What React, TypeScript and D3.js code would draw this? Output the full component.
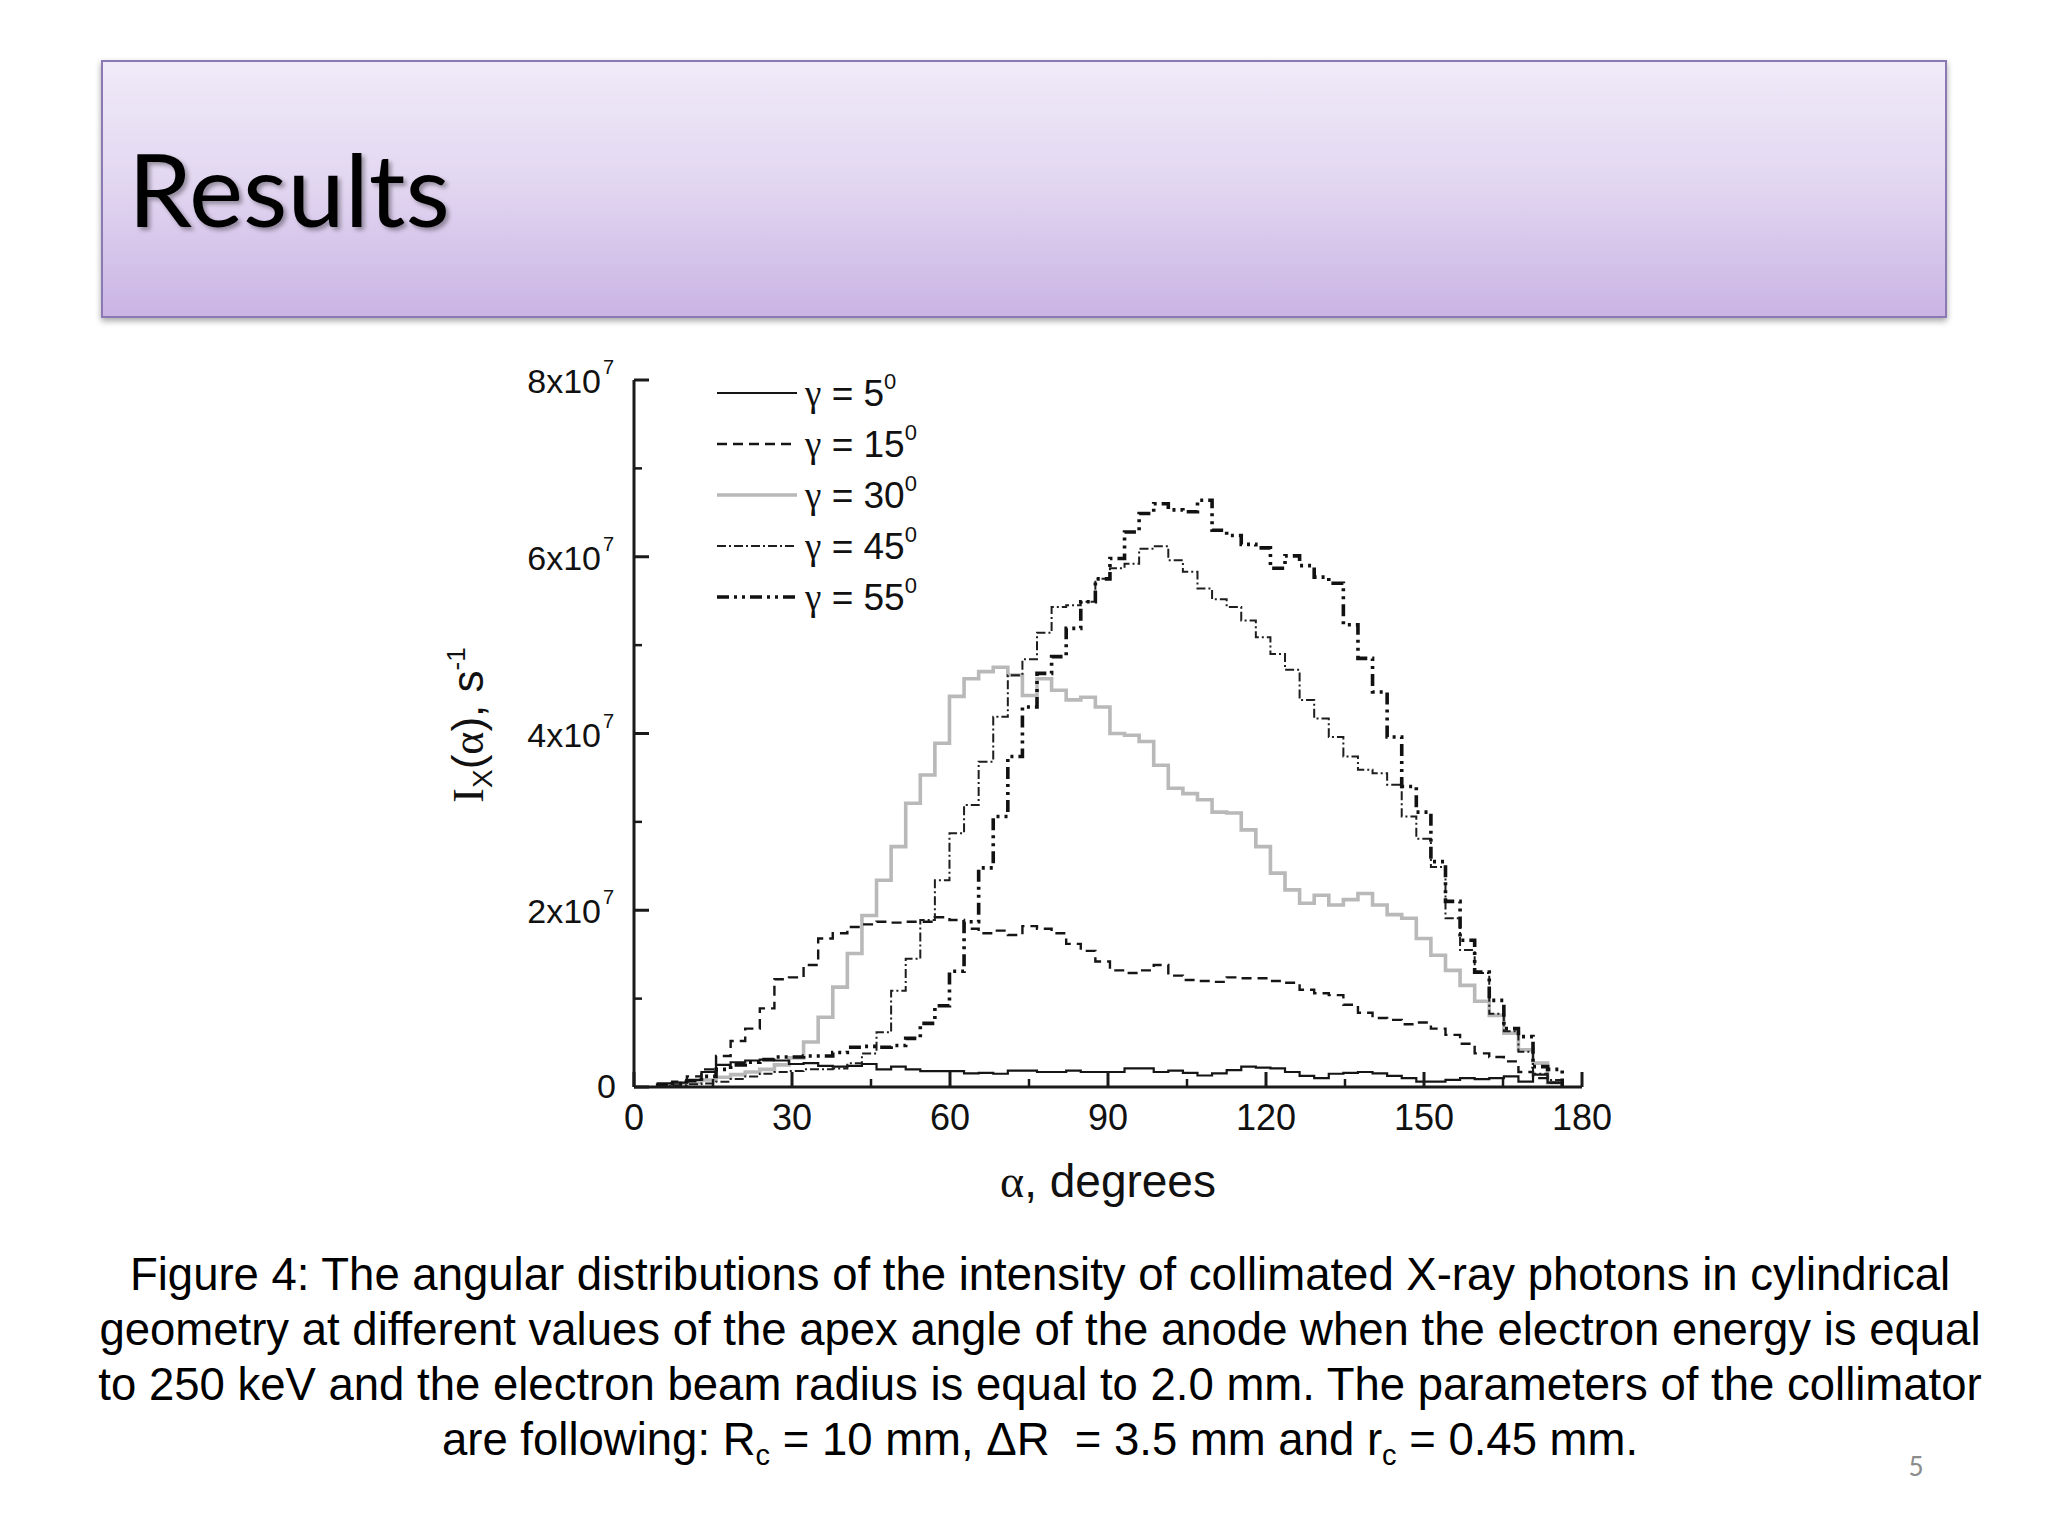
import React from "react";
import * as d3 from "d3";

// ---------- data (intensity in units of 10^7 s^-1, one value per angular bin) ----------
const ANGLE_BIN_START = 4.5; // degrees, left edge of first bin
const ANGLE_BIN_WIDTH = 2.77; // degrees

const gamma5 = [
  0.04, 0.05, 0.08, 0.17, 0.25, 0.28, 0.30, 0.31, 0.30, 0.26,
  0.27, 0.24, 0.23, 0.24, 0.26, 0.20, 0.23, 0.20, 0.18, 0.18,
  0.18, 0.155, 0.16, 0.15, 0.185, 0.185, 0.17, 0.17, 0.185, 0.17,
  0.17, 0.17, 0.21, 0.21, 0.17, 0.185, 0.16, 0.13, 0.155, 0.19,
  0.23, 0.22, 0.21, 0.17, 0.125, 0.10, 0.15, 0.16, 0.17, 0.155,
  0.125, 0.10, 0.06, 0.06, 0.08, 0.10, 0.09, 0.10, 0.12, 0.06,
  0.14, 0.05,
];
const gamma15 = [
  0.03, 0.06, 0.12, 0.20, 0.35, 0.52, 0.66, 0.89, 1.22, 1.24,
  1.38, 1.68, 1.74, 1.81, 1.84, 1.87, 1.86, 1.87, 1.87, 1.92,
  1.89, 1.79, 1.74, 1.77, 1.72, 1.82, 1.79, 1.74, 1.62, 1.54,
  1.42, 1.32, 1.29, 1.32, 1.38, 1.26, 1.21, 1.20, 1.19, 1.24,
  1.23, 1.23, 1.20, 1.18, 1.10, 1.06, 1.04, 0.93, 0.84, 0.78,
  0.76, 0.71, 0.73, 0.66, 0.59, 0.49, 0.38, 0.34, 0.29, 0.17,
  0.10, 0.05,
];
const gamma30 = [
  0.01, 0.03, 0.05, 0.08, 0.11, 0.14, 0.17, 0.20, 0.25, 0.33,
  0.51, 0.79, 1.13, 1.51, 1.94, 2.34, 2.72, 3.21, 3.53, 3.89,
  4.42, 4.62, 4.70, 4.75, 4.66, 4.43, 4.62, 4.49, 4.38, 4.41,
  4.30, 4.00, 3.98, 3.91, 3.64, 3.38, 3.32, 3.25, 3.11, 3.10,
  2.91, 2.72, 2.42, 2.23, 2.08, 2.17, 2.06, 2.12, 2.19, 2.06,
  1.95, 1.91, 1.68, 1.49, 1.32, 1.15, 0.97, 0.81, 0.61, 0.42,
  0.27, 0.05,
];
const gamma45 = [
  0.01, 0.02, 0.03, 0.04, 0.06, 0.09, 0.12, 0.15, 0.17, 0.18,
  0.20, 0.20, 0.21, 0.27, 0.38, 0.62, 1.09, 1.45, 1.89, 2.34,
  2.87, 3.19, 3.68, 4.19, 4.66, 4.84, 5.14, 5.43, 5.45, 5.49,
  5.75, 5.87, 5.92, 6.09, 6.12, 5.96, 5.83, 5.64, 5.52, 5.43,
  5.28, 5.09, 4.90, 4.72, 4.38, 4.17, 3.96, 3.74, 3.59, 3.55,
  3.42, 3.06, 2.81, 2.49, 1.91, 1.55, 1.29, 0.83, 0.63, 0.40,
  0.15, 0.08,
];
const gamma55 = [
  0.02, 0.04, 0.07, 0.12, 0.20, 0.25, 0.28, 0.31, 0.34, 0.34,
  0.35, 0.35, 0.39, 0.45, 0.46, 0.45, 0.47, 0.55, 0.72, 0.92,
  1.31, 1.87, 2.48, 3.06, 3.74, 4.30, 4.68, 4.87, 5.19, 5.49,
  5.75, 5.98, 6.28, 6.49, 6.60, 6.53, 6.51, 6.64, 6.30, 6.24,
  6.14, 6.10, 5.87, 6.01, 5.90, 5.77, 5.70, 5.23, 4.85, 4.47,
  3.96, 3.40, 3.11, 2.55, 2.10, 1.66, 1.30, 0.98, 0.66, 0.57,
  0.23, 0.20,
];

const seriesLabels = ["5", "15", "30", "45", "55"];
const xTickValues = [0, 30, 60, 90, 120, 150, 180];
const xMinorTicks = [15, 45, 75, 105, 135, 165];
const yTickValues = [0, 2, 4, 6, 8];
const yMinorTicks = [1, 3, 5, 7];

const captionLines = [
  "Figure 4: The angular distributions of the intensity of collimated X-ray photons in cylindrical",
  "geometry at different values of the apex angle of the anode when the electron energy is equal",
  "to 250 keV and the electron beam radius is equal to 2.0 mm. The parameters of the collimator",
];

// ---------- styles ----------
const seriesStyles = [
  { stroke: "#151515", width: 2.2, dash: "none" },
  { stroke: "#151515", width: 2.4, dash: "10 6" },
  { stroke: "#b9b9b9", width: 3.6, dash: "none" },
  { stroke: "#1e1e1e", width: 2.0, dash: "9 3 2 3" },
  { stroke: "#111111", width: 3.6, dash: "12 5 3 5 3 5" },
];

const SANS = "'Liberation Sans', Arial, sans-serif";
const SERIF = "'Liberation Serif', 'DejaVu Serif', serif";
const CAPTION_SIZE = 45.5;

export default function App() {
  const x = d3.scaleLinear().domain([0, 180]).range([634, 1582]);
  const y = d3.scaleLinear().domain([0, 8]).range([1087, 380]);

  const allSeries = [gamma5, gamma15, gamma30, gamma45, gamma55];

  const stepLine = d3
    .line<[number, number]>()
    .x((d) => x(d[0]))
    .y((d) => y(d[1]))
    .curve(d3.curveStepAfter);

  const buildPoints = (vals: number[]): [number, number][] => {
    const pts: [number, number][] = [[ANGLE_BIN_START, 0]];
    vals.forEach((v, i) => pts.push([ANGLE_BIN_START + i * ANGLE_BIN_WIDTH, v]));
    const end = ANGLE_BIN_START + vals.length * ANGLE_BIN_WIDTH;
    pts.push([end, vals[vals.length - 1]]);
    pts.push([end, 0]);
    return pts;
  };

  const drawOrder = [2, 0, 1, 3, 4];

  const axisColor = "#1a1a1a";
  const x0 = x(0);
  const y0 = y(0);

  return (
    <svg
      width={2048}
      height={1536}
      viewBox="0 0 2048 1536"
      style={{ position: "absolute", left: 0, top: 0, background: "#ffffff" }}
    >
      <defs>
        <linearGradient id="titleGrad" x1="0" y1="0" x2="0" y2="1">
          <stop offset="0%" stopColor="#f0eaf8" />
          <stop offset="45%" stopColor="#e3d8f1" />
          <stop offset="100%" stopColor="#cab4e4" />
        </linearGradient>
        <filter id="boxShadow" x="-5%" y="-10%" width="110%" height="130%">
          <feDropShadow dx="0" dy="3" stdDeviation="3" floodColor="#000" floodOpacity="0.35" />
        </filter>
        <filter id="textShadow" x="-5%" y="-10%" width="115%" height="130%">
          <feDropShadow dx="3" dy="3" stdDeviation="2" floodColor="#000" floodOpacity="0.35" />
        </filter>
      </defs>

      {/* Title box */}
      <rect
        x={102}
        y={61}
        width={1844}
        height={256}
        fill="url(#titleGrad)"
        stroke="#8a79b3"
        strokeWidth={2}
        filter="url(#boxShadow)"
      />
      <text
        x={128}
        y={227}
        fontFamily="Lato, 'Open Sans', sans-serif"
        fontSize={100}
        fill="#000"
        textLength={322}
        lengthAdjust="spacingAndGlyphs"
        filter="url(#textShadow)"
      >
        Results
      </text>

      {/* Series */}
      {drawOrder.map((si) => {
        const st = seriesStyles[si];
        return (
          <path
            key={si}
            d={stepLine(buildPoints(allSeries[si])) || ""}
            fill="none"
            stroke={st.stroke}
            strokeWidth={st.width}
            strokeDasharray={st.dash === "none" ? undefined : st.dash}
            strokeLinejoin="miter"
          />
        );
      })}

      {/* Axes */}
      <line x1={x0} x2={x0} y1={y(8)} y2={y0} stroke={axisColor} strokeWidth={3} />
      <line x1={x0} x2={x(180)} y1={y0} y2={y0} stroke={axisColor} strokeWidth={3} />
      {yTickValues.map((t) => (
        <line key={"yt" + t} x1={x0} x2={x0 + 15} y1={y(t)} y2={y(t)} stroke={axisColor} strokeWidth={3} />
      ))}
      {yMinorTicks.map((t) => (
        <line key={"ym" + t} x1={x0} x2={x0 + 8} y1={y(t)} y2={y(t)} stroke={axisColor} strokeWidth={2.5} />
      ))}
      {xTickValues.map((t) => (
        <line key={"xt" + t} x1={x(t)} x2={x(t)} y1={y0} y2={y0 - 15} stroke={axisColor} strokeWidth={3} />
      ))}
      {xMinorTicks.map((t) => (
        <line key={"xm" + t} x1={x(t)} x2={x(t)} y1={y0} y2={y0 - 8} stroke={axisColor} strokeWidth={2.5} />
      ))}

      {/* Y tick labels */}
      {yTickValues.map((t) =>
        t === 0 ? (
          <text key={"yl" + t} x={616} y={y(t) + 11} textAnchor="end" fontFamily={SANS} fontSize={34} fill="#111">
            0
          </text>
        ) : (
          <g key={"yl" + t}>
            <text x={601} y={y(t) + 13} textAnchor="end" fontFamily={SANS} fontSize={34} fill="#111">
              {t}x10
            </text>
            <text x={603} y={y(t) - 6} fontFamily={SANS} fontSize={20} fill="#111">
              7
            </text>
          </g>
        )
      )}

      {/* X tick labels */}
      {xTickValues.map((t) => (
        <text key={"xl" + t} x={x(t)} y={1130} textAnchor="middle" fontFamily={SANS} fontSize={36} fill="#111">
          {t}
        </text>
      ))}

      {/* Axis titles */}
      <text x={1108} y={1197} textAnchor="middle" fontFamily={SANS} fontSize={46} fill="#111">
        <tspan fontFamily={SERIF}>α</tspan>, degrees
      </text>
      <text
        transform="translate(483, 725) rotate(-90)"
        textAnchor="middle"
        fontFamily={SANS}
        fontSize={44}
        fill="#111"
      >
        <tspan fontFamily={SERIF}>I</tspan>
        <tspan fontSize={28} dy={9}>X</tspan>
        <tspan dy={-9}>(</tspan>
        <tspan fontFamily={SERIF}>α</tspan>
        <tspan>), s</tspan>
        <tspan fontSize={26} dy={-18}>-1</tspan>
      </text>

      {/* Legend */}
      {seriesLabels.map((lab, i) => {
        const cy = 393 + 51 * i;
        const st = seriesStyles[i];
        return (
          <g key={"lg" + i}>
            <line
              x1={717}
              x2={797}
              y1={cy}
              y2={cy}
              stroke={st.stroke}
              strokeWidth={st.width}
              strokeDasharray={st.dash === "none" ? undefined : st.dash}
            />
            <text x={805} y={cy + 13} fontFamily={SANS} fontSize={37} fill="#111">
              <tspan fontFamily={SERIF}>γ</tspan>
              <tspan> = {lab}</tspan>
              <tspan fontSize={22} dy={-17}>0</tspan>
            </text>
          </g>
        );
      })}

      {/* Caption */}
      {captionLines.map((line, i) => (
        <text
          key={"cap" + i}
          x={1040}
          y={1290 + 55 * i}
          textAnchor="middle"
          fontFamily={SANS}
          fontSize={CAPTION_SIZE}
          fill="#000"
        >
          {line}
        </text>
      ))}
      <text
        x={1040}
        y={1455}
        textAnchor="middle"
        fontFamily={SANS}
        fontSize={CAPTION_SIZE}
        fill="#000"
        style={{ whiteSpace: "pre" }}
      >
        <tspan>are following: R</tspan>
        <tspan fontSize={29} dy={10}>c</tspan>
        <tspan dy={-10}>{" = 10 mm, ΔR  = 3.5 mm and r"}</tspan>
        <tspan fontSize={29} dy={10}>c</tspan>
        <tspan dy={-10}> = 0.45 mm.</tspan>
      </text>

      {/* Slide number */}
      <text x={1916} y={1476} textAnchor="middle" fontFamily="Lato, 'Open Sans', sans-serif" fontSize={26} fill="#8c8c8c">
        5
      </text>
    </svg>
  );
}
